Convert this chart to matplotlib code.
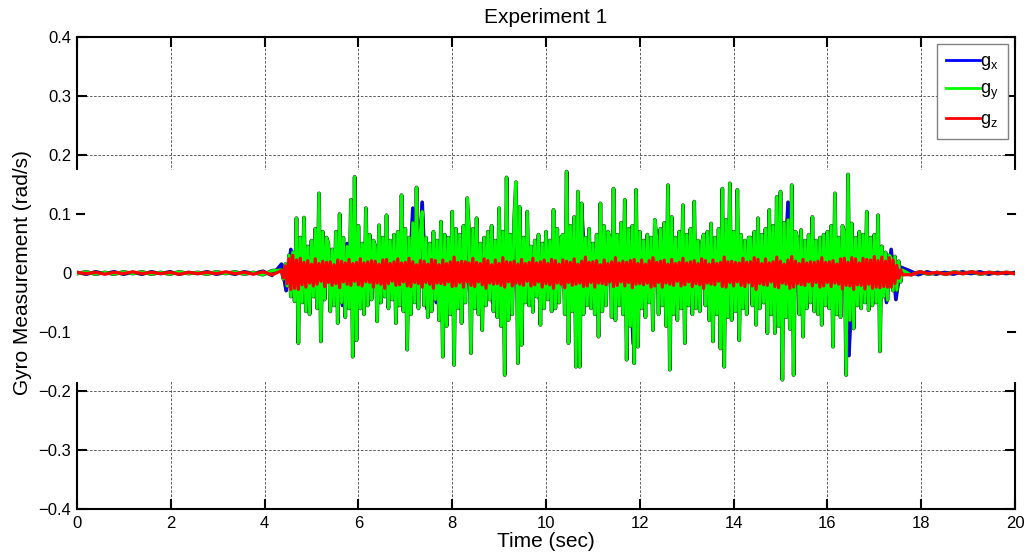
import numpy as np
import matplotlib
matplotlib.use("Agg")
import matplotlib.pyplot as plt
import matplotlib.patheffects as pe
from matplotlib.patches import Rectangle
from matplotlib.lines import Line2D

plt.rcParams['font.family'] = ['Liberation Sans', 'DejaVu Sans']

# ---------------- data ----------------
title = "Experiment 1"
xlabel = "Time (sec)"
ylabel = "Gyro Measurement (rad/s)"
series_names = ["$\\mathregular{g_x}$", "$\\mathregular{g_y}$", "$\\mathregular{g_z}$"]
x_ticks = [0, 2, 4, 6, 8, 10, 12, 14, 16, 18, 20]
y_ticks = [-0.4, -0.3, -0.2, -0.1, 0, 0.1, 0.2, 0.3, 0.4]
y_ticklabels = ['\u22120.4', '\u22120.3', '\u22120.2', '\u22120.1', '0', '0.1', '0.2', '0.3', '0.4']

# gx : quiet before, active (step 0.10 s from 4.36 s), quiet after
gx_start, gx_step = 4.36, 0.10
gx_pre = [0.001, -0.002, 0.002, -0.001, 0.002, -0.002, 0.001, -0.002, 0.002, -0.001, 0.002,
          -0.002, 0.001, -0.001, 0.002, -0.002, 0.001, -0.002, 0.002, -0.001, 0.003, -0.004]
gx_act = [0.015, -0.030, 0.040, -0.045, 0.035, -0.050, 0.045, -0.040, 0.050, -0.045,
          0.040, -0.050, 0.045, -0.055, 0.050, -0.060, 0.055, -0.050, 0.045, -0.040,
          0.045, -0.050, 0.040, -0.045, 0.050, -0.055, 0.045, -0.050, 0.110, -0.045,
          0.120, -0.060, 0.045, -0.050, 0.040, -0.055, 0.050, -0.045, 0.040, -0.050,
          0.045, -0.050, 0.040, -0.055, 0.045, -0.050, 0.050, -0.045, 0.055, -0.050,
          0.050, -0.110, 0.045, -0.050, 0.040, -0.045, 0.050, -0.040, 0.045, -0.050,
          0.050, -0.055, 0.045, -0.050, 0.115, -0.050, 0.045, -0.040, 0.050, -0.045,
          0.040, -0.050, 0.045, -0.055, 0.050, -0.120, 0.045, -0.050, 0.040, -0.045,
          0.050, -0.045, 0.040, -0.055, 0.045, -0.050, 0.050, -0.045, 0.040, -0.050,
          0.045, -0.050, 0.040, -0.045, 0.050, -0.055, 0.045, -0.050, 0.040, -0.045,
          0.060, -0.050, 0.045, -0.050, 0.040, -0.055, 0.050, -0.045, 0.120, -0.050,
          0.045, -0.050, 0.040, -0.045, 0.050, -0.055, 0.045, -0.050, 0.040, -0.045,
          0.060, -0.140, 0.050, -0.045, 0.040, -0.050, 0.045, -0.040, 0.045, -0.050,
          0.040, -0.045, 0.010]
gx_post = [0.004, -0.003, 0.002, -0.002, 0.001, -0.002, 0.002, -0.001, 0.002, -0.002, 0.001, -0.001, 0.001]

# gy : quiet before, active (step 0.04 s from 4.36 s), quiet after
gy_start, gy_step = 4.36, 0.04
gy_pre = [-0.001, 0.002, -0.002, 0.001, -0.002, 0.002, -0.001, 0.002, -0.002, 0.001, -0.002,
          0.002, -0.001, 0.001, -0.002, 0.002, -0.001, 0.002, -0.002, 0.001, -0.003, 0.004]
gy_act = [0.005, -0.010, 0.015, -0.022, 0.030, -0.040, 0.035, -0.048, 0.093, -0.119, 0.060, -0.050, 0.094,
          -0.065, 0.045, -0.070, 0.055, -0.040, 0.075, -0.060, 0.135, -0.116, 0.070, -0.045, 0.060,
          0.050, -0.065, 0.040, -0.055, 0.070, -0.085, 0.100, -0.050, 0.060, -0.075, 0.045, -0.060, 0.124,
          -0.142, 0.163, -0.114, 0.080, -0.060, 0.050, -0.070, 0.110, -0.055, 0.065, -0.045, 0.055,
          0.045, -0.082, 0.081, -0.050, 0.060, -0.040, 0.098, -0.060, 0.055, -0.045, 0.065, -0.085, 0.070,
          -0.055, 0.132, -0.065, 0.075, -0.130, 0.060, -0.070, 0.085, -0.050, 0.145, -0.060, 0.070,
          0.104, -0.055, 0.060, -0.075, 0.050, -0.065, 0.070, -0.045, 0.055, -0.080, 0.087, -0.142, 0.065,
          -0.090, 0.060, -0.070, 0.104, -0.156, 0.075, -0.060, 0.065, -0.085, 0.080, -0.050, 0.127,
          0.070, -0.136, 0.075, -0.060, 0.093, -0.070, 0.050, -0.097, 0.060, -0.055, 0.070, -0.045, 0.080,
          -0.065, 0.055, -0.075, 0.110, -0.090, 0.070, -0.173, 0.162, -0.080, 0.065, -0.070, 0.090,
          0.154, -0.153, 0.112, -0.122, 0.060, -0.050, 0.104, -0.055, 0.045, -0.066, 0.055, -0.040, 0.065,
          -0.088, 0.050, -0.060, 0.070, -0.045, 0.055, -0.065, 0.107, -0.060, 0.075, -0.050, 0.060,
          0.065, -0.070, 0.172, -0.119, 0.080, -0.065, 0.095, -0.159, 0.138, -0.159, 0.118, -0.070, 0.060,
          -0.055, 0.075, -0.060, 0.050, -0.070, 0.065, -0.108, 0.118, -0.065, 0.080, -0.055, 0.070,
          0.060, -0.075, 0.143, -0.080, 0.065, -0.055, 0.085, -0.070, 0.124, -0.147, 0.075, -0.090, 0.080,
          -0.153, 0.141, -0.125, 0.070, -0.060, 0.055, -0.075, 0.065, -0.050, 0.060, -0.097, 0.090,
          0.060, -0.070, 0.075, -0.055, 0.085, -0.090, 0.149, -0.164, 0.095, -0.070, 0.060, -0.080, 0.070,
          -0.060, 0.115, -0.119, 0.065, -0.055, 0.075, -0.070, 0.121, -0.060, 0.055, -0.065, 0.050,
          0.065, -0.055, 0.070, -0.080, 0.084, -0.116, 0.060, -0.070, 0.075, -0.128, 0.143, -0.159, 0.090,
          -0.075, 0.152, -0.080, 0.070, -0.065, 0.141, -0.114, 0.065, -0.060, 0.055, -0.070, 0.060,
          0.060, -0.055, 0.070, -0.088, 0.093, -0.060, 0.065, -0.050, 0.075, -0.102, 0.107, -0.070, 0.080,
          -0.102, 0.129, -0.090, 0.138, -0.181, 0.085, -0.075, 0.090, -0.095, 0.149, -0.173, 0.070,
          0.060, -0.070, 0.073, -0.108, 0.055, -0.060, 0.065, -0.050, 0.095, -0.065, 0.055, -0.070, 0.060,
          -0.088, 0.065, -0.055, 0.070, -0.060, 0.080, -0.125, 0.135, -0.070, 0.060, -0.075, 0.080,
          0.070, -0.173, 0.167, -0.080, 0.084, -0.094, 0.060, -0.055, 0.070, -0.060, 0.065, -0.050, 0.104,
          -0.063, 0.060, -0.055, 0.065, -0.050, 0.098, -0.133, 0.045, -0.040, 0.035, -0.046, 0.030,
          0.025, -0.030, 0.028, -0.029, 0.020, -0.015, 0.005]
gy_post = [-0.003, 0.002, -0.002, 0.001, -0.002, 0.002, -0.001, 0.002, -0.002, 0.001, -0.001, 0.001, -0.001]

# gz : quiet before, active (step 0.04 s from 4.36 s), quiet after
gz_start, gz_step = 4.36, 0.04
gz_pre = [0.001, -0.001, 0.001, -0.002, 0.001, -0.001, 0.002, -0.001, 0.001, -0.001, 0.001,
          -0.002, 0.001, -0.001, 0.001, -0.001, 0.002, -0.001, 0.001, -0.002, 0.002, -0.003]
gz_act = [0.004, -0.008, 0.012, -0.018, 0.024, -0.028, 0.030, -0.026, 0.022, -0.028, 0.025, -0.020, 0.018,
          -0.024, 0.021, -0.017, 0.015, -0.022, 0.024, -0.019, 0.016, -0.014, 0.020, -0.023, 0.018,
          -0.016, 0.019, -0.021, 0.014, -0.018, 0.022, -0.025, 0.020, -0.015, 0.017, -0.019, 0.023, -0.021,
          0.016, -0.014, 0.018, -0.020, 0.024, -0.022, 0.017, -0.015, 0.019, -0.016, 0.021, -0.024,
          0.020, -0.017, 0.015, -0.019, 0.022, -0.026, 0.023, -0.018, 0.016, -0.014, 0.019, -0.021, 0.024,
          -0.020, 0.017, -0.015, 0.018, -0.022, 0.025, -0.023, 0.019, -0.016, 0.014, -0.018, 0.021,
          -0.024, 0.020, -0.016, 0.015, -0.019, 0.023, -0.026, 0.021, -0.017, 0.014, -0.018, 0.022, -0.020,
          0.016, -0.015, 0.019, -0.023, 0.027, -0.022, 0.018, -0.016, 0.020, -0.024, 0.019, -0.015,
          0.017, -0.021, 0.025, -0.023, 0.018, -0.015, 0.016, -0.020, 0.024, -0.026, 0.021, -0.017, 0.014,
          -0.019, 0.022, -0.018, 0.016, -0.021, 0.026, -0.024, 0.019, -0.015, 0.018, -0.022, 0.020,
          -0.017, 0.015, -0.019, 0.023, -0.021, 0.016, -0.014, 0.018, -0.022, 0.025, -0.020, 0.017, -0.015,
          0.019, -0.024, 0.022, -0.018, 0.016, -0.020, 0.023, -0.026, 0.021, -0.017, 0.015, -0.019,
          0.022, -0.025, 0.020, -0.016, 0.018, -0.021, 0.024, -0.019, 0.015, -0.017, 0.020, -0.023, 0.027,
          -0.022, 0.018, -0.016, 0.019, -0.024, 0.021, -0.017, 0.014, -0.018, 0.022, -0.020, 0.016,
          -0.015, 0.019, -0.023, 0.026, -0.021, 0.017, -0.015, 0.020, -0.022, 0.018, -0.016, 0.021, -0.025,
          0.023, -0.019, 0.016, -0.018, 0.022, -0.020, 0.015, -0.017, 0.021, -0.024, 0.026, -0.022,
          0.018, -0.016, 0.020, -0.024, 0.022, -0.017, 0.015, -0.019, 0.023, -0.021, 0.016, -0.014, 0.018,
          -0.022, 0.025, -0.020, 0.017, -0.015, 0.019, -0.023, 0.021, -0.018, 0.016, -0.020, 0.024,
          -0.026, 0.021, -0.017, 0.015, -0.019, 0.022, -0.020, 0.016, -0.014, 0.018, -0.023, 0.027, -0.024,
          0.019, -0.016, 0.020, -0.022, 0.018, -0.015, 0.017, -0.021, 0.025, -0.023, 0.018, -0.016,
          0.019, -0.022, 0.026, -0.028, 0.023, -0.018, 0.016, -0.020, 0.024, -0.021, 0.017, -0.015, 0.019,
          -0.023, 0.027, -0.025, 0.020, -0.017, 0.015, -0.019, 0.022, -0.026, 0.028, -0.024, 0.020,
          -0.018, 0.016, -0.020, 0.023, -0.021, 0.017, -0.015, 0.019, -0.022, 0.018, -0.016, 0.020, -0.024,
          0.026, -0.022, 0.018, -0.016, 0.019, -0.023, 0.021, -0.017, 0.015, -0.019, 0.024, -0.027,
          0.025, -0.021, 0.018, -0.022, 0.026, -0.028, 0.024, -0.020, 0.017, -0.021, 0.025, -0.027, 0.023,
          -0.019, 0.022, -0.026, 0.028, -0.024, 0.021, -0.025, 0.027, -0.023, 0.020, -0.024, 0.026,
          -0.024, 0.022, -0.018, 0.013, -0.009, 0.005, -0.003]
gz_post = [-0.003, 0.002, -0.001, 0.001, -0.002, 0.001, -0.001, 0.002, -0.001, 0.001, -0.001, 0.001, -0.001]

T_END = 20.0


def build(pre, start, step, act, post):
    t_pre = np.linspace(0.0, start, len(pre), endpoint=False)
    t_act = start + step * np.arange(len(act))
    t_post = np.linspace(t_act[-1], T_END, len(post) + 1)[1:]
    return (np.concatenate([t_pre, t_act, t_post]),
            np.concatenate([pre, act, post]))


tx, gx = build(gx_pre, gx_start, gx_step, gx_act, gx_post)
ty, gy = build(gy_pre, gy_start, gy_step, gy_act, gy_post)
tz, gz = build(gz_pre, gz_start, gz_step, gz_act, gz_post)

# ---------------- figure ----------------
fig = plt.figure(figsize=(10.3, 5.6), dpi=100)
ax = fig.add_axes([77 / 1030, 1 - 509 / 560, (1015 - 77) / 1030, (509 - 37) / 560])

lx, = ax.plot(tx, gx, color='#0000ff', lw=2.0, zorder=3,
              path_effects=[pe.Stroke(linewidth=2.6, foreground='#2a2a2a'), pe.Normal()])
ly, = ax.plot(ty, gy, color='#00ff00', lw=2.1, zorder=3.1,
              path_effects=[pe.Stroke(linewidth=2.7, foreground='#333333'), pe.Normal()])
lz, = ax.plot(tz, gz, color='#ff0000', lw=2.3, zorder=3.2)

ax.set_xlim(0, 20)
ax.set_ylim(-0.4, 0.4)
ax.set_xticks(x_ticks)
ax.set_yticks(y_ticks)
ax.set_yticklabels(y_ticklabels)

ax.tick_params(direction='in', length=7, width=1.5, top=True, right=True,
               labelsize=12, pad=4)
ax.tick_params(axis='x', pad=5)
for s in ax.spines.values():
    s.set_linewidth(1.5)

ax.grid(True, linestyle=(0, (3, 2)), color='#444444', linewidth=0.6)

# white band hiding frame and grid in the data region (as in reference)
band = Rectangle((-0.004, -0.185), 1.008, 0.36, transform=ax.get_yaxis_transform(),
                 facecolor='white', edgecolor='none', zorder=2.6, clip_on=False)
ax.add_patch(band)
tl = 7 / 938
for (x0, x1, yv) in [(0, tl, 0.1), (1 - tl, 1, 0.1), (1 - tl, 1, -0.1)]:
    ax.add_line(Line2D([x0, x1], [yv, yv], transform=ax.get_yaxis_transform(),
                       color='black', lw=1.5, zorder=2.7, clip_on=False))

ax.set_title(title, fontsize=15, pad=10)
ax.set_xlabel(xlabel, fontsize=15, labelpad=1)
ax.set_ylabel(ylabel, fontsize=15, labelpad=5)

leg = ax.legend([lx, ly, lz], series_names, loc='upper right', fontsize=13,
                handlelength=1.9, handletextpad=0.0, borderpad=0.5,
                labelspacing=0.5, borderaxespad=0.4, fancybox=False,
                framealpha=1.0, edgecolor='#808080')
leg.get_frame().set_linewidth(1.0)
leg.set_zorder(5)
for h in leg.legend_handles:
    h.set_path_effects([])
    h.set_linewidth(2.0)

fig.savefig('out.png', dpi=100)
